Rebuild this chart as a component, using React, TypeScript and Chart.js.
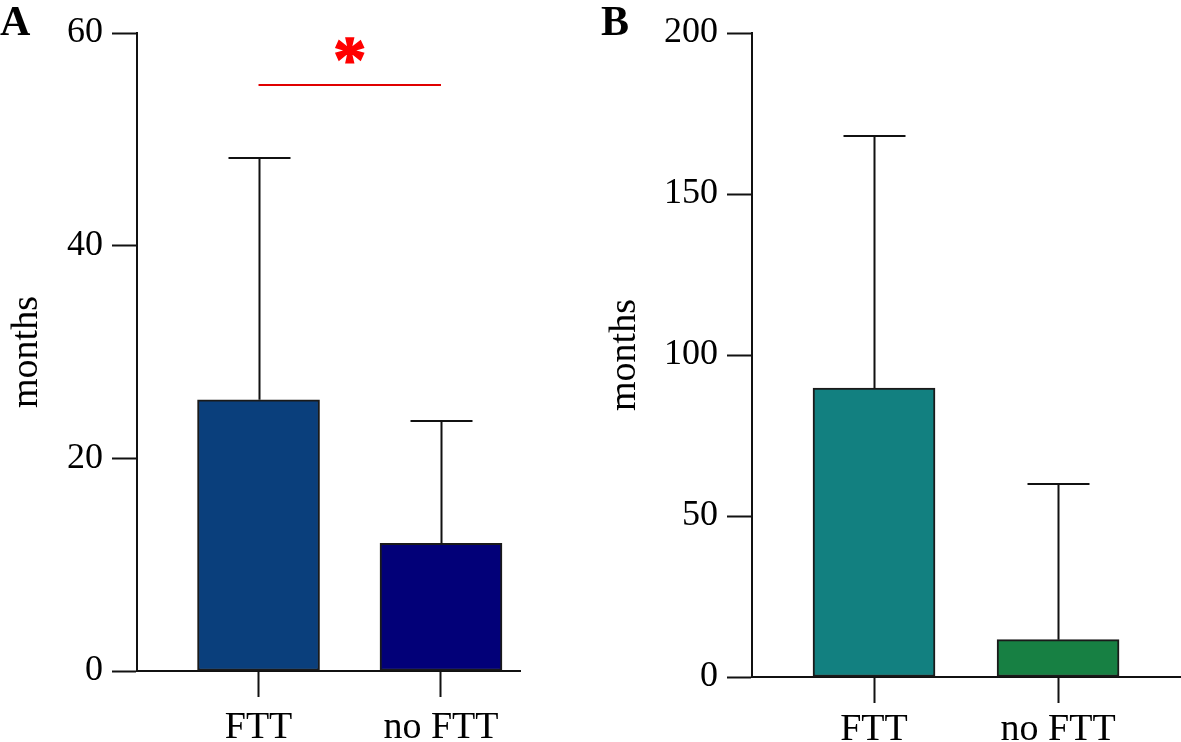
import React, { useEffect, useRef } from 'react';
import { Chart, registerables } from 'chart.js';

Chart.register(...registerables);

// ---- data ----
const categories = ['FTT', 'no FTT'];
const meanA = [25.5, 12.0];
const sdA = [22.7, 11.5];
const meanB = [89.7, 11.6];
const sdB = [78.3, 48.4];
const ticksA = [0, 20, 40, 60];
const ticksB = [0, 50, 100, 150, 200];
const sigLevelA = 55.1;
const sigLabelA = '*';
const yTitle = 'months';

const colorsA = ['#0a3f7c', '#020078'];
const colorsB = ['#128080', '#178043'];

const FONT = '"Liberation Serif", "Times New Roman", serif';

const errorBarPlugin = {
  id: 'errorBars',
  afterDatasetsDraw(chart: any, _args: any, opts: any) {
    const { ctx } = chart;
    const xs = chart.scales.x;
    const ys = chart.scales.y;
    const ds = chart.data.datasets[0];
    const errs: number[] = opts.errors || [];
    ctx.save();
    ctx.strokeStyle = '#111';
    ctx.lineWidth = 2;
    ds.data.forEach((d: any, i: number) => {
      const px = Math.round(xs.getPixelForValue(d.x)) + 0.5;
      const top = ys.getPixelForValue(d.y);
      const end = Math.round(ys.getPixelForValue(d.y + errs[i]));
      ctx.beginPath();
      ctx.moveTo(px, top);
      ctx.lineTo(px, end);
      ctx.moveTo(px - opts.capHalf, end);
      ctx.lineTo(px + opts.capHalf, end);
      ctx.stroke();
    });
    ctx.restore();
  },
};

const sigPlugin = {
  id: 'sigMark',
  afterDatasetsDraw(chart: any, _args: any, opts: any) {
    if (!opts || opts.level == null) return;
    const { ctx } = chart;
    const xs = chart.scales.x;
    const ys = chart.scales.y;
    const x0 = xs.getPixelForValue(0);
    const x1 = xs.getPixelForValue(1);
    const y = Math.round(ys.getPixelForValue(opts.level));
    ctx.save();
    ctx.strokeStyle = '#e00000';
    ctx.lineWidth = 2;
    ctx.beginPath();
    ctx.moveTo(x0, y);
    ctx.lineTo(x1, y);
    ctx.stroke();
    ctx.fillStyle = '#ff0000';
    ctx.strokeStyle = '#ff0000';
    ctx.lineWidth = 1.5;
    ctx.font = `bold 66px ${FONT}`;
    const m = ctx.measureText(opts.label);
    const cx = (x0 + x1) / 2;
    const cy = y - 35;
    const h = m.actualBoundingBoxAscent + m.actualBoundingBoxDescent;
    const w = m.actualBoundingBoxLeft + m.actualBoundingBoxRight;
    ctx.textBaseline = 'alphabetic';
    ctx.textAlign = 'left';
    const tx = cx - w / 2 + m.actualBoundingBoxLeft;
    const ty = cy + h / 2 - m.actualBoundingBoxDescent;
    ctx.fillText(opts.label, tx, ty);
    ctx.strokeText(opts.label, tx, ty);
    ctx.restore();
  },
};

const panelLabelPlugin = {
  id: 'panelLabel',
  afterDraw(chart: any, _args: any, opts: any) {
    if (!opts || !opts.text) return;
    const { ctx } = chart;
    ctx.save();
    ctx.fillStyle = '#000';
    ctx.font = `bold 42px ${FONT}`;
    ctx.textBaseline = 'alphabetic';
    ctx.textAlign = 'left';
    ctx.fillText(opts.text, opts.x, opts.y);
    ctx.restore();
  },
};

function makeConfig(p: {
  means: number[];
  sds: number[];
  colors: string[];
  yTicks: number[];
  xMin: number;
  xMax: number;
  yAxisWidth: number;
  xAxisHeight: number;
  xLabelPad: number;
  titlePad: number;
  padRight: number;
  panel: string;
  panelX: number;
  sig?: number;
}) {
  const data = categories.map((_, i) => ({ x: i, y: p.means[i] }));
  return {
    type: 'bar' as const,
    data: {
      datasets: [
        {
          data,
          backgroundColor: p.colors,
          borderColor: '#1a1a1a',
          borderWidth: 2,
          borderSkipped: false,
          barThickness: 122,
        },
      ],
    },
    options: {
      animation: false,
      responsive: false,
      maintainAspectRatio: false,
      layout: { padding: { top: 33, left: 0, right: p.padRight, bottom: 0 } },
      plugins: {
        legend: { display: false },
        tooltip: { enabled: false },
        errorBars: { errors: p.sds, capHalf: 31 },
        sigMark: p.sig != null ? { level: p.sig, label: sigLabelA } : {},
        panelLabel: { text: p.panel, x: p.panelX, y: 35 },
      },
      scales: {
        x: {
          type: 'linear',
          min: p.xMin,
          max: p.xMax,
          offset: false,
          afterBuildTicks: (s: any) => {
            s.ticks = categories.map((_, i) => ({ value: i }));
          },
          afterFit: (s: any) => {
            s.height = p.xAxisHeight;
          },
          grid: {
            display: true,
            offset: false,
            drawOnChartArea: false,
            drawTicks: true,
            tickLength: 26,
            tickWidth: 2,
            tickColor: '#111',
          },
          border: { display: true, color: '#111', width: 2 },
          ticks: {
            autoSkip: false,
            maxRotation: 0,
            padding: p.xLabelPad,
            color: '#000',
            font: { family: FONT, size: 38 },
            callback: (v: any) => categories[v] ?? '',
          },
        },
        y: {
          type: 'linear',
          min: p.yTicks[0],
          max: p.yTicks[p.yTicks.length - 1],
          afterBuildTicks: (s: any) => {
            s.ticks = p.yTicks.map((v) => ({ value: v }));
          },
          afterFit: (s: any) => {
            s.width = p.yAxisWidth;
          },
          grid: {
            display: true,
            drawOnChartArea: false,
            drawTicks: true,
            tickLength: 25,
            tickWidth: 2,
            tickColor: '#111',
          },
          border: { display: true, color: '#111', width: 2 },
          ticks: {
            padding: 9,
            color: '#000',
            font: { family: FONT, size: 36 },
          },
          title: {
            display: true,
            text: yTitle,
            color: '#000',
            font: { family: FONT, size: 38 },
            padding: { top: p.titlePad, bottom: 0 },
          },
        },
      },
    },
    plugins: [errorBarPlugin, sigPlugin, panelLabelPlugin],
  };
}

function Panel(props: { left: number; width: number; cfg: any }) {
  const ref = useRef<HTMLCanvasElement>(null);
  useEffect(() => {
    if (!ref.current) return;
    const chart = new Chart(ref.current, props.cfg);
    return () => chart.destroy();
  }, []);
  return (
    <canvas
      ref={ref}
      width={props.width}
      height={742}
      style={{ position: 'absolute', left: props.left, top: 0, width: props.width, height: 742 }}
    />
  );
}

export default function App() {
  useEffect(() => {
    document.body.style.margin = '0';
  }, []);
  const cfgA = makeConfig({
    means: meanA,
    sds: sdA,
    colors: colorsA,
    yTicks: ticksA,
    xMin: -0.666,
    xMax: 1.433,
    yAxisWidth: 137,
    xAxisHeight: 71,
    xLabelPad: 8,
    titlePad: 4,
    padRight: 40,
    panel: 'A',
    panelX: 0,
    sig: sigLevelA,
  });
  const cfgB = makeConfig({
    means: meanB,
    sds: sdB,
    colors: colorsB,
    yTicks: ticksB,
    xMin: -0.663,
    xMax: 1.668,
    yAxisWidth: 162,
    xAxisHeight: 65,
    xLabelPad: 4,
    titlePad: 12,
    padRight: 0,
    panel: 'B',
    panelX: 11,
  });
  return (
    <div style={{ position: 'relative', width: 1181, height: 742, background: '#fff', overflow: 'hidden' }}>
      <Panel left={0} width={560} cfg={cfgA} />
      <Panel left={590} width={591} cfg={cfgB} />
    </div>
  );
}
